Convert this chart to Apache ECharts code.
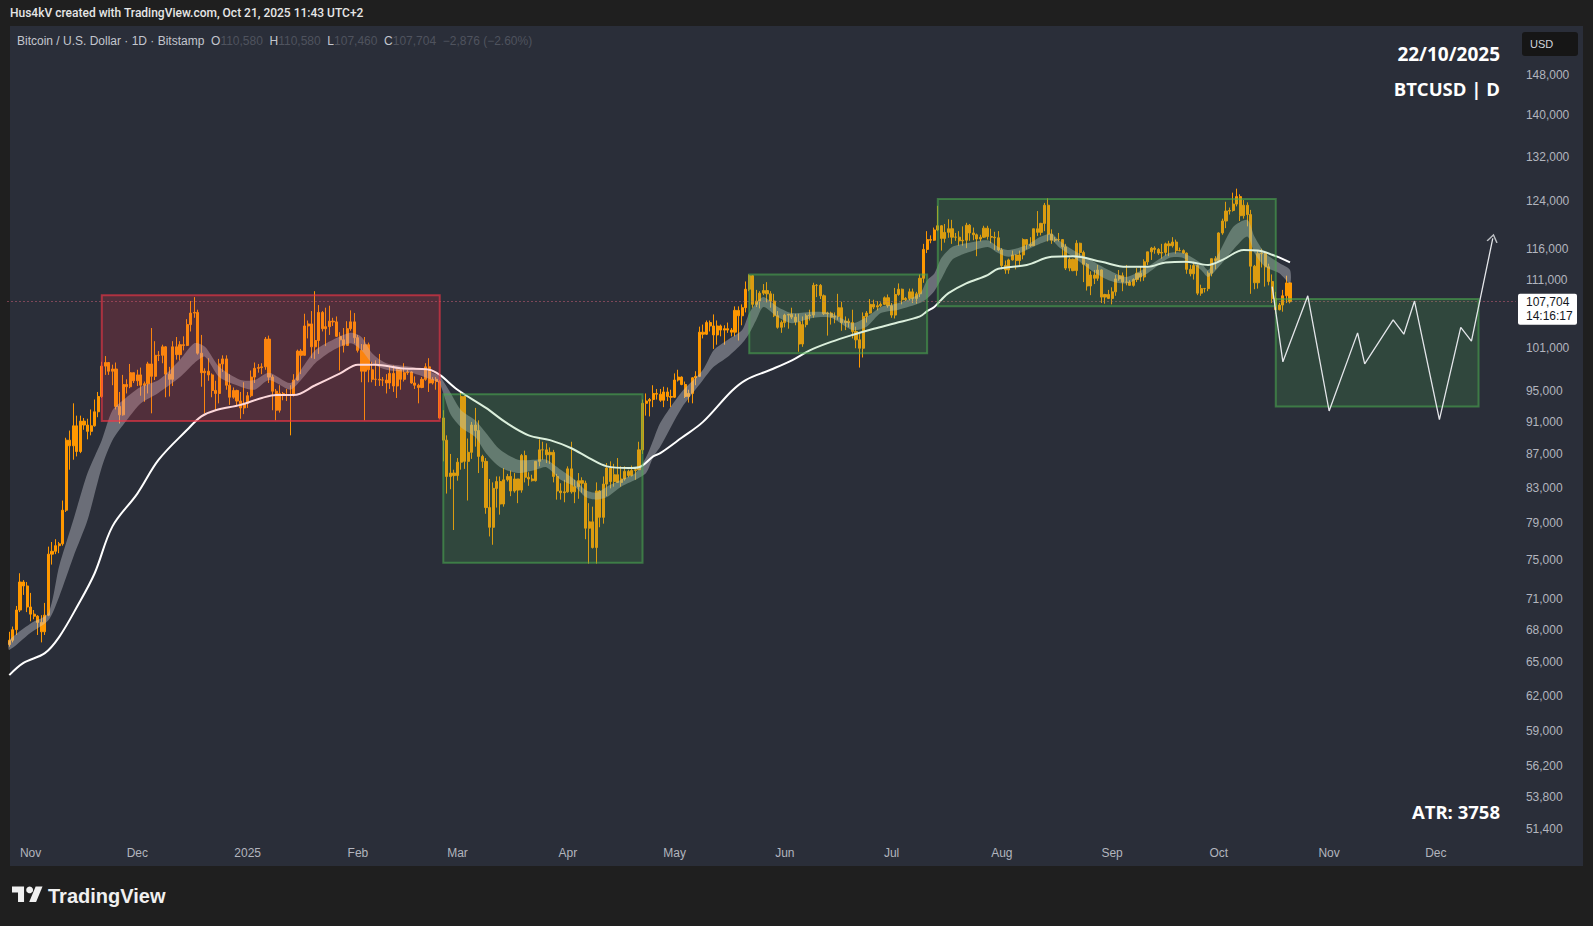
<!DOCTYPE html>
<html>
<head>
<meta charset="utf-8">
<title>BTCUSD 1D</title>
<script src="https://cdn.jsdelivr.net/npm/echarts@6/dist/echarts.min.js"></script>
<style>
  html, body { margin: 0; padding: 0; width: 1593px; height: 926px; overflow: hidden; background: #1f1f1f; }
  #pane { position: absolute; left: 10px; top: 26px; width: 1573px; height: 840px; background: #2a2e39; }
  #chart { position: absolute; left: 0; top: 0; width: 1593px; height: 926px; }
</style>
</head>
<body>
<div id="pane"></div>
<div id="chart"></div>
<script>
// Daily BTCUSD candles, [open, high, low, close] in thousands of USD.
const candlesOct2024 = [
  [66.6,67.8,66.4,67.0],[67.0,68.3,66.8,68.0],[68.0,70.3,67.5,69.9],[69.9,73.6,69.7,72.7],[72.7,72.9,71.4,72.3],[72.3,72.7,69.7,70.2]
];
const candlesNov2024 = [
  [70.2,71.6,68.8,69.5],[69.5,69.9,69.0,69.3],[69.3,69.4,67.5,68.7],[68.7,69.4,66.8,67.8],[67.8,70.6,67.5,69.4],
  [69.4,76.4,69.3,75.6],[75.6,76.9,74.5,75.9],[75.9,77.2,75.6,76.5],[76.5,76.9,75.7,76.7],[76.7,81.5,76.5,80.4],
  [80.4,89.0,80.2,88.7],[88.7,89.9,85.1,88.0],[88.0,93.4,86.3,90.5],[90.5,91.8,86.7,87.3],[87.3,91.8,87.1,91.1],
  [91.1,91.5,90.0,90.6],[90.6,91.4,88.8,89.8],[89.8,92.6,89.3,90.5],[90.5,93.9,90.4,92.3],[92.3,94.9,91.6,94.3],
  [94.3,99.0,94.1,98.4],[98.4,99.8,97.2,98.9],[98.9,98.9,97.2,97.7],[97.7,98.6,95.8,98.0],[98.0,98.9,92.6,93.0],
  [93.0,94.9,90.8,91.9],[91.9,97.2,91.8,95.9],[95.9,96.6,94.7,95.6],[95.6,98.7,95.4,97.5],[97.5,97.5,96.1,96.4]
];
const candlesDec2024 = [
  [96.4,97.9,95.7,97.2],[97.2,98.2,94.4,95.8],[95.8,96.3,93.6,96.0],[96.0,99.0,94.7,98.7],[98.7,103.8,92.1,97.0],
  [97.0,101.9,96.5,99.9],[99.9,100.5,99.1,99.9],[99.9,101.4,98.8,101.1],[101.1,101.2,94.2,97.3],[97.3,98.3,94.3,96.6],
  [96.6,101.9,95.7,101.1],[101.1,102.5,99.3,100.0],[100.0,101.9,99.2,101.4],[101.4,102.6,100.6,101.3],[101.3,105.1,101.2,104.3],
  [104.3,107.8,103.3,106.0],[106.0,108.4,105.3,106.1],[106.1,106.5,100.0,100.2],[100.2,102.8,95.6,97.5],[97.5,98.1,92.1,97.7],
  [97.7,99.5,96.4,97.2],[97.2,97.4,94.2,95.1],[95.1,96.4,92.4,94.7],[94.7,99.4,93.4,98.7],[98.7,99.9,97.6,99.4],
  [99.4,99.9,95.2,95.8],[95.8,97.3,93.2,94.2],[94.2,95.5,94.0,95.1],[95.1,95.2,93.0,93.7],[93.7,94.9,91.4,92.8],
  [92.8,96.2,92.0,93.4]
];
const candlesJan2025 = [
  [93.4,94.9,92.8,94.4],[94.4,97.8,94.2,96.9],[96.9,98.9,96.1,98.1],[98.1,98.7,97.5,98.2],[98.2,98.8,97.3,98.3],
  [98.3,102.5,97.9,102.2],[102.2,102.7,96.1,96.9],[96.9,97.2,92.5,95.0],[95.0,95.3,91.2,92.5],[92.5,95.8,92.2,94.7],
  [94.7,94.9,93.8,94.5],[94.5,95.3,93.7,94.5],[94.5,95.8,89.3,94.5],[94.5,97.3,94.3,96.5],[96.5,100.7,96.4,100.5],
  [100.5,100.8,97.3,99.9],[99.9,105.9,99.9,104.1],[104.1,104.9,102.3,104.4],[104.4,106.3,99.5,101.1],[101.1,109.3,99.4,102.0],
  [102.0,107.2,100.1,106.1],[106.1,106.3,103.3,103.7],[103.7,106.8,101.2,104.0],[104.0,107.1,102.8,104.8],[104.8,105.3,104.1,104.7],
  [104.7,105.5,102.5,102.6],[102.6,103.2,97.8,102.1],[102.1,103.8,100.3,101.3],[101.3,104.8,101.3,103.7],[103.7,106.4,103.4,104.7],
  [104.7,106.0,101.6,102.4]
];
const candlesFeb2025 = [
  [102.4,102.8,100.3,100.6],[100.6,101.5,96.2,97.7],[97.7,102.5,91.2,101.4],[101.4,101.7,96.2,97.9],[97.9,99.0,96.2,96.6],
  [96.6,99.2,95.7,96.6],[96.6,100.1,95.7,96.5],[96.5,96.9,95.7,96.5],[96.5,97.3,94.7,96.1],[96.1,98.3,95.3,97.4],
  [97.4,98.5,94.9,95.7],[95.7,98.1,94.1,97.9],[97.9,98.0,95.2,96.6],[96.6,98.8,96.3,97.5],[97.5,97.9,97.2,97.6],
  [97.6,97.7,96.0,96.1],[96.1,97.0,95.3,95.8],[95.8,96.0,93.4,95.5],[95.5,96.9,95.4,96.6],[96.6,98.8,96.4,98.3],
  [98.3,99.5,94.9,96.1],[96.1,96.9,95.9,96.6],[96.6,96.9,95.2,96.3],[96.3,96.5,91.4,91.5],[91.5,92.5,86.1,88.7],
  [88.7,89.3,82.3,84.3],[84.3,87.0,82.8,84.7],[84.7,85.1,78.2,84.4]
];
const candlesMar2025 = [
  [84.4,86.5,83.8,86.0],[86.0,95.0,85.1,94.3],[94.3,94.4,85.2,86.1],[86.1,88.9,81.5,87.2],[87.2,91.0,86.4,90.6],
  [90.6,92.8,87.9,89.9],[89.9,91.2,84.7,86.7],[86.7,86.9,85.3,86.1],[86.1,86.5,80.0,80.7],[80.7,84.0,77.5,78.5],
  [78.5,83.6,76.6,82.9],[82.9,84.3,80.7,83.7],[83.7,84.3,79.9,81.1],[81.1,85.3,80.8,83.9],[83.9,84.6,83.7,84.3],
  [84.3,85.0,82.0,82.6],[82.6,84.7,82.4,84.0],[84.0,84.0,81.2,82.7],[82.7,87.0,82.4,86.8],[86.8,87.4,83.6,84.2],
  [84.2,84.8,83.2,84.0],[84.0,84.5,83.7,83.8],[83.8,86.1,83.7,86.1],[86.1,88.8,85.5,87.5],[87.5,88.5,86.3,87.5],
  [87.5,88.3,85.9,86.9],[86.9,87.8,85.8,87.2],[87.2,87.5,83.6,84.3],[84.3,84.6,81.6,82.6],[82.6,83.5,81.6,82.4],
  [82.4,83.9,81.3,82.5]
];
const candlesApr2025 = [
  [82.5,85.5,82.4,85.2],[85.2,88.5,82.3,82.5],[82.5,83.9,81.2,83.1],[83.1,84.7,81.7,83.8],[83.8,84.2,82.4,83.5],
  [83.5,83.8,77.2,78.4],[78.4,81.2,74.6,79.1],[79.1,80.8,76.2,76.3],[76.3,83.6,74.6,82.6],[82.6,82.7,78.5,79.6],
  [79.6,84.3,78.9,83.4],[83.4,85.9,82.0,85.3],[85.3,86.1,82.9,83.7],[83.7,85.8,83.1,84.5],[84.5,86.5,83.6,83.6],
  [83.6,85.5,83.1,84.0],[84.0,85.5,83.8,84.9],[84.9,85.1,84.2,84.4],[84.4,85.6,84.3,85.0],[85.0,85.3,83.9,85.1],
  [85.1,88.5,85.1,87.5],[87.5,93.9,87.0,93.4],[93.4,94.7,91.8,93.7],[93.7,94.1,91.7,93.9],[93.9,95.8,92.9,94.7],
  [94.7,95.3,93.9,94.6],[94.6,95.3,93.6,93.8],[93.8,95.6,92.9,94.9],[94.9,95.5,93.7,94.3],[94.3,95.2,92.9,94.2]
];
const candlesMay2025 = [
  [94.2,97.4,94.1,96.5],[96.5,97.9,96.3,96.9],[96.9,97.0,95.8,95.9],[95.9,96.3,94.1,94.3],[94.3,95.2,93.5,94.7],
  [94.7,96.9,93.4,96.8],[96.8,97.7,95.8,97.0],[97.0,104.0,96.9,103.2],[103.2,104.3,102.3,102.9],[102.9,104.9,102.8,104.6],
  [104.6,104.9,103.3,104.1],[104.1,105.8,100.8,102.8],[102.8,104.9,101.4,104.1],[104.1,104.3,102.6,103.5],[103.5,104.2,101.4,103.7],
  [103.7,104.6,103.1,103.5],[103.5,103.8,102.6,103.2],[103.2,107.0,102.6,106.4],[106.4,107.0,102.0,105.6],[105.6,107.3,104.2,106.8],
  [106.8,110.8,106.1,109.6],[109.6,111.9,109.3,111.7],[111.7,111.8,106.8,107.3],[107.3,109.5,106.9,107.8],[107.8,109.3,106.7,109.0],
  [109.0,110.4,108.7,109.4],[109.4,110.7,107.6,108.9],[108.9,109.3,106.8,107.8],[107.8,108.9,105.4,105.6],[105.6,106.3,103.7,103.9],
  [103.9,104.9,103.1,104.6]
];
const candlesJun2025 = [
  [104.6,105.9,103.9,105.7],[105.7,105.9,103.7,105.8],[105.8,106.8,105.1,105.4],[105.4,105.9,104.2,104.7],[104.7,105.9,100.4,101.5],
  [101.5,105.5,101.1,104.3],[104.3,105.9,103.9,105.6],[105.6,106.5,104.9,105.7],[105.7,110.6,105.3,110.2],[110.2,110.4,108.4,110.2],
  [110.2,110.4,108.1,108.6],[108.6,108.8,105.7,105.9],[105.9,106.2,102.7,106.0],[106.0,106.2,104.3,105.4],[105.4,106.1,104.5,105.5],
  [105.5,108.9,105.0,106.8],[106.8,107.7,103.4,104.6],[104.6,105.5,103.5,104.8],[104.8,105.2,103.9,104.6],[104.6,106.5,102.3,103.3],
  [103.3,104.0,100.9,102.1],[102.1,103.0,98.2,100.9],[100.9,106.1,99.6,105.5],[105.5,106.3,104.6,106.0],[106.0,108.1,105.9,107.3],
  [107.3,108.0,106.6,106.9],[106.9,107.8,106.4,107.1],[107.1,107.6,106.9,107.3],[107.3,108.5,107.2,108.3],[108.3,108.8,106.8,107.1]
];
const candlesJul2025 = [
  [107.1,107.5,105.3,105.7],[105.7,109.8,105.2,108.8],[108.8,110.5,108.6,109.6],[109.6,109.7,107.3,108.0],[108.0,108.4,107.8,108.2],
  [108.2,109.7,107.9,109.2],[109.2,109.7,107.5,108.2],[108.2,109.2,107.4,108.9],[108.9,111.9,108.4,111.3],[111.3,116.8,110.6,115.9],
  [115.9,118.9,115.3,117.5],[117.5,118.2,116.9,117.4],[117.4,119.5,117.3,119.1],[119.1,123.2,118.9,119.8],[119.8,119.9,115.7,117.7],
  [117.7,120.1,117.0,118.7],[118.7,120.9,117.8,119.3],[119.3,120.8,116.8,117.9],[117.9,118.6,117.3,117.9],[117.9,118.9,116.5,117.3],
  [117.3,119.7,116.5,117.4],[117.4,120.3,116.1,119.9],[119.9,120.1,117.3,118.6],[118.6,119.5,117.4,118.3],[118.3,118.5,114.8,117.6],
  [117.6,118.3,117.2,117.9],[117.9,119.8,117.8,119.4],[119.4,119.8,117.5,118.0],[118.0,119.3,116.9,117.9],[117.9,118.8,115.8,117.8],
  [117.8,118.9,115.6,115.8]
];
const candlesAug2025 = [
  [115.8,116.1,112.7,113.3],[113.3,114.1,112.0,112.6],[112.6,114.4,112.0,114.2],[114.2,115.7,114.1,115.0],[115.0,115.1,112.7,114.1],
  [114.1,115.7,113.4,115.0],[115.0,117.7,114.3,117.5],[117.5,117.6,115.9,116.7],[116.7,117.9,116.3,116.5],[116.5,119.3,116.5,119.3],
  [119.3,122.3,118.1,118.7],[118.7,120.3,118.2,120.2],[120.2,123.7,118.9,123.3],[123.3,124.5,117.2,118.4],[118.4,119.2,116.8,117.4],
  [117.4,117.9,117.1,117.5],[117.5,118.6,117.2,117.5],[117.5,117.6,114.7,116.3],[116.3,116.8,112.6,112.9],[112.9,114.6,112.4,114.3],
  [114.3,114.4,112.4,112.5],[112.5,117.4,111.7,116.9],[116.9,117.0,114.6,115.4],[115.4,115.7,110.7,113.5],[113.5,113.7,109.4,110.1],
  [110.1,112.4,108.7,111.8],[111.8,112.6,110.4,111.3],[111.3,113.4,110.9,112.6],[112.6,112.7,107.5,108.4],[108.4,108.9,107.4,108.8],
  [108.8,109.5,108.1,108.2]
];
const candlesSep2025 = [
  [108.2,109.9,107.3,109.2],[109.2,111.8,108.6,111.2],[111.2,112.6,110.9,111.7],[111.7,112.2,109.3,110.7],[110.7,113.4,110.2,110.7],
  [110.7,111.0,110.2,110.2],[110.2,111.3,110.0,111.1],[111.1,112.9,110.7,112.1],[112.1,113.2,110.8,111.5],[111.5,114.3,110.9,113.9],
  [113.9,115.5,113.4,115.5],[115.5,116.3,114.2,116.1],[116.1,116.4,115.2,115.9],[115.9,116.1,115.0,115.3],[115.3,116.8,114.4,115.4],
  [115.4,117.0,114.9,116.8],[116.8,117.3,114.8,116.5],[116.5,117.9,116.2,117.1],[117.1,117.5,115.2,115.7],[115.7,116.2,115.6,115.7],
  [115.7,115.9,115.2,115.3],[115.3,115.4,112.0,112.7],[112.7,113.4,111.6,112.0],[112.0,113.9,111.1,113.3],[113.3,113.5,108.7,109.0],
  [109.0,110.3,108.6,109.7],[109.7,109.8,109.1,109.7],[109.7,112.4,109.3,112.1],[112.1,114.4,111.6,114.4],[114.4,114.8,112.7,114.1]
];
const candlesOct2025 = [
  [114.1,118.7,113.9,118.6],[118.6,121.0,118.3,120.6],[120.6,123.9,119.4,122.3],[122.3,122.9,121.7,122.4],[122.4,125.5,122.2,123.5],
  [123.5,126.2,123.1,124.8],[124.8,125.2,120.6,121.5],[121.5,124.2,121.0,123.3],[123.3,123.8,119.7,121.7],[121.7,122.5,108.9,113.2],
  [113.2,113.4,109.6,110.6],[110.6,115.8,109.7,115.2],[115.2,116.0,113.0,115.3],[115.3,115.5,110.0,113.1],[113.1,113.6,110.2,110.8],
  [110.8,111.9,107.5,108.2],[108.2,109.2,105.9,106.5],[106.5,107.5,106.4,107.2],[107.2,109.5,106.2,108.6],[108.6,111.7,107.5,110.58],
  [110.58,110.58,107.46,107.704]
];

// Slow moving average (white line), [date, value in thousands].
const emaSlow = [
  ['2024-10-26',63.8],['2024-10-30',64.9],['2024-11-05',65.8],['2024-11-09',67.3],['2024-11-14',70.2],['2024-11-19',73.6],
  ['2024-11-24',78.6],['2024-12-01',82.3],['2024-12-07',86.3],['2024-12-15',90.0],['2024-12-19',91.7],['2024-12-23',92.5],
  ['2024-12-30',93.2],['2025-01-05',94.1],['2025-01-09',94.5],['2025-01-14',94.5],['2025-01-20',95.8],['2025-01-27',97.4],
  ['2025-02-01',98.6],['2025-02-06',98.6],['2025-02-13',98.1],['2025-02-21',97.9],['2025-02-24',97.2],['2025-03-01',95.2],
  ['2025-03-09',92.8],['2025-03-15',90.8],['2025-03-21',89.3],['2025-03-27',88.7],['2025-04-02',87.7],['2025-04-07',86.5],
  ['2025-04-12',85.5],['2025-04-18',85.3],['2025-04-21',85.4],['2025-04-25',86.7],['2025-04-27',87.1],['2025-05-03',89.0],
  ['2025-05-09',91.0],['2025-05-17',95.0],['2025-05-21',96.5],['2025-05-28',97.9],['2025-06-03',99.2],['2025-06-08',100.6],
  ['2025-06-14',101.8],['2025-06-20',102.8],['2025-06-26',103.7],['2025-07-02',104.5],['2025-07-09',105.5],['2025-07-11',106.3],
  ['2025-07-13',106.9],['2025-07-15',108.0],['2025-07-17',109.0],['2025-07-22',110.5],['2025-07-28',111.8],['2025-07-31',112.8],
  ['2025-08-08',113.4],['2025-08-15',114.7],['2025-08-21',114.8],['2025-08-29',113.9],['2025-09-05',113.1],['2025-09-11',113.1],
  ['2025-09-16',113.8],['2025-09-22',113.9],['2025-09-28',113.4],['2025-10-02',114.2],['2025-10-08',115.8],['2025-10-12',115.7],
  ['2025-10-17',114.8],['2025-10-21',113.8]
];

// Fast moving-average ribbon, [date, upper edge, lower edge] in thousands.
const emaRibbon = [
  ['2024-10-26',67.0,66.1],['2024-11-01',68.6,67.7],['2024-11-06',69.6,68.9],['2024-11-09',74.3,71.2],['2024-11-13',79.3,75.3],
  ['2024-11-17',84.7,79.3],['2024-11-21',88.7,85.4],['2024-11-24',92.5,88.7],['2024-11-28',94.2,91.2],['2024-12-02',95.6,93.4],
  ['2024-12-07',96.5,94.8],['2024-12-13',99.3,96.9],['2024-12-17',101.6,98.8],['2024-12-20',101.1,99.7],['2024-12-24',98.3,96.9],
  ['2024-12-30',96.5,95.6],['2025-01-03',96.5,95.2],['2025-01-07',97.5,96.5],['2025-01-13',96.1,95.2],['2025-01-16',97.9,96.5],
  ['2025-01-20',100.6,98.8],['2025-01-25',102.1,100.6],['2025-01-30',103.1,101.6],['2025-02-02',102.5,100.6],['2025-02-05',100.2,98.8],
  ['2025-02-09',98.8,97.9],['2025-02-16',98.3,97.5],['2025-02-22',97.5,96.5],['2025-02-24',97.0,96.0],['2025-02-27',94.8,92.0],
  ['2025-03-02',92.5,90.3],['2025-03-06',91.2,89.1],['2025-03-09',89.6,87.1],['2025-03-13',87.5,85.4],['2025-03-18',86.3,84.7],
  ['2025-03-23',86.3,85.1],['2025-03-26',86.3,85.4],['2025-03-30',85.1,83.9],['2025-04-03',83.9,83.1],['2025-04-06',82.7,81.9],
  ['2025-04-09',82.4,81.6],['2025-04-12',83.1,81.9],['2025-04-16',83.9,83.1],['2025-04-20',84.7,83.9],['2025-04-23',86.6,84.7],
  ['2025-04-25',88.7,86.6],['2025-04-27',90.9,87.9],['2025-05-03',94.9,92.8],['2025-05-09',97.9,96.5],['2025-05-12',100.6,98.3],
  ['2025-05-16',102.1,99.7],['2025-05-20',103.5,101.6],['2025-05-22',106.0,103.0],['2025-05-24',107.5,105.0],['2025-05-26',108.4,106.9],
  ['2025-05-30',106.9,105.4],['2025-06-03',106.0,104.5],['2025-06-09',106.2,105.3],['2025-06-14',106.0,105.3],['2025-06-20',104.5,103.5],
  ['2025-06-24',105.4,104.0],['2025-06-28',106.9,106.0],['2025-07-03',107.5,106.5],['2025-07-09',109.0,107.5],['2025-07-11',111.0,108.2],
  ['2025-07-13',112.0,109.3],['2025-07-15',114.5,111.2],['2025-07-18',116.3,114.2],['2025-07-22',116.9,115.3],['2025-07-28',117.4,116.3],
  ['2025-07-31',116.3,115.3],['2025-08-03',115.8,114.7],['2025-08-08',116.6,115.8],['2025-08-12',118.0,116.9],['2025-08-15',118.5,117.4],
  ['2025-08-17',117.4,116.3],['2025-08-21',115.8,114.7],['2025-08-26',114.2,112.6],['2025-08-31',112.6,111.0],['2025-09-05',111.5,110.5],
  ['2025-09-11',113.1,112.1],['2025-09-17',115.3,114.5],['2025-09-21',115.3,114.5],['2025-09-26',113.7,112.6],['2025-09-28',112.6,111.5],
  ['2025-10-01',115.3,113.1],['2025-10-05',119.6,115.8],['2025-10-09',120.8,118.0],['2025-10-11',118.0,115.3],['2025-10-14',115.3,113.1],
  ['2025-10-18',113.7,112.1],['2025-10-21',112.6,110.5]
];

// Range boxes: [from, to, top, bottom (thousands), kind].
const rangeBoxes = [
  ['2024-11-21','2025-02-24',108.7,91.1,'distribution'],
  ['2025-02-25','2025-04-22',94.6,74.7,'range'],
  ['2025-05-22','2025-07-11',111.9,100.2,'range'],
  ['2025-07-14','2025-10-17',124.4,107.0,'range'],
  ['2025-10-17','2025-12-13',108.1,93.0,'range']
];

// Projected path drawn ahead of the last candle, [date, price in thousands].
const projectionPath = [
  ['2025-10-16',110.0],['2025-10-19',99.0],['2025-10-26',108.6],['2025-11-01',92.4],['2025-11-09',103.1],
  ['2025-11-11',98.7],['2025-11-19',105.0],['2025-11-22',102.9],['2025-11-25',107.8],['2025-12-02',91.3],
  ['2025-12-08',103.9],['2025-12-11',101.9],['2025-12-17',117.7]
];

// Price-scale tick labels (log scale).
const priceTicks = [148000,140000,132000,124000,116000,111000,101000,95000,91000,87000,83000,79000,75000,71000,68000,65000,62000,59000,56200,53800,51400];
const monthNames = ['Jan','Feb','Mar','Apr','May','Jun','Jul','Aug','Sep','Oct','Nov','Dec'];

// Axis extent: first session through the right margin of the time scale.
const firstDay = Date.UTC(2024, 9, 26);
const sessionCount = 424;
const priceMin = 50635, priceMax = 158305;

const categories = [];
for (let i = 0; i < sessionCount; i++) {
  categories.push(new Date(firstDay + i * 86400000).toISOString().slice(0, 10));
}
const dayIndex = {};
categories.forEach((d, i) => { dayIndex[d] = i; });

const candleRows = [].concat(candlesOct2024, candlesNov2024, candlesDec2024, candlesJan2025, candlesFeb2025,
  candlesMar2025, candlesApr2025, candlesMay2025, candlesJun2025, candlesJul2025, candlesAug2025,
  candlesSep2025, candlesOct2025);
// ECharts candlestick order: [open, close, low, high]
const candleData = candleRows.map(r => [r[0] * 1000, r[3] * 1000, r[2] * 1000, r[1] * 1000]);

const lastRow = candleRows[candleRows.length - 1];
const prevClose = candleRows[candleRows.length - 2][3];
const lastClose = lastRow[3] * 1000;

const fmtPrice = v => Math.round(v).toLocaleString('en-US');
const minus = v => (v < 0 ? '\u2212' : '');
const change = Math.round((lastRow[3] - prevClose) * 1000);
const changePct = ((lastRow[3] - prevClose) / prevClose * 100).toFixed(2);

const slowData = emaSlow.map(p => [dayIndex[p[0]], p[1] * 1000]);
const ribbonData = emaRibbon.map(p => [dayIndex[p[0]], p[1] * 1000, p[2] * 1000]);
const boxData = rangeBoxes.map(b => [dayIndex[b[0]], b[2] * 1000, dayIndex[b[1]], b[3] * 1000]);
const projData = projectionPath.map(p => [dayIndex[p[0]], p[1] * 1000]);

const boxStyles = {
  distribution: { fill: 'rgba(242,54,69,0.20)', stroke: 'rgba(242,54,69,0.62)' },
  range: { fill: 'rgba(76,175,80,0.20)', stroke: 'rgba(76,175,80,0.55)' }
};

const FONT = '"Liberation Sans", Arial, sans-serif';
const BIG = '"Open Sans", "Liberation Sans", sans-serif';

const chart = echarts.init(document.getElementById('chart'), null, { renderer: 'svg' });

const infoText =
  '{t|Bitcoin / U.S. Dollar \u00b7 1D \u00b7 Bitstamp}  ' +
  '{k|O}{v|' + fmtPrice(lastRow[0] * 1000) + '}  ' +
  '{k|H}{v|' + fmtPrice(lastRow[1] * 1000) + '}  ' +
  '{k|L}{v|' + fmtPrice(lastRow[2] * 1000) + '}  ' +
  '{k|C}{v|' + fmtPrice(lastRow[3] * 1000) + '}  ' +
  '{v|' + minus(change) + fmtPrice(Math.abs(change)) + ' (' + minus(change) + Math.abs(changePct).toFixed(2) + '%)}';

const option = {
  animation: false,
  backgroundColor: 'transparent',
  grid: { left: 7.5, right: 77.1, top: 27, bottom: 86, containLabel: false },
  xAxis: {
    type: 'category',
    data: categories,
    boundaryGap: true,
    axisLine: { show: false },
    axisTick: { show: false },
    splitLine: { show: false },
    axisLabel: {
      interval: (i, v) => v.slice(8) === '01',
      formatter: v => (v.slice(5, 7) === '01' ? v.slice(0, 4) : monthNames[+v.slice(5, 7) - 1]),
      color: '#b2b5be',
      fontSize: 12,
      fontFamily: FONT,
      margin: 7
    }
  },
  yAxis: {
    type: 'log',
    position: 'right',
    min: priceMin,
    max: priceMax,
    axisLine: { show: false },
    axisTick: { show: false },
    splitLine: { show: false },
    minorTick: { show: false },
    axisLabel: {
      customValues: priceTicks,
      formatter: v => fmtPrice(v),
      color: '#b2b5be',
      fontSize: 12,
      fontFamily: FONT,
      margin: 10
    }
  },
  series: [
    {
      name: 'BTCUSD',
      type: 'candlestick',
      data: candleData,
      barWidth: 2.6,
      z: 2,
      itemStyle: {
        color: '#ff9800', color0: '#ff9800',
        borderColor: '#ff9800', borderColor0: '#ff9800',
        borderWidth: 1
      }
    },
    {
      name: 'ribbon',
      type: 'custom',
      data: ribbonData,
      encode: { x: 0, y: [1, 2] },
      z: 3,
      silent: true,
      renderItem: (params, api) => {
        if (params.dataIndex !== 0) return null;
        const up = ribbonData.map(p => api.coord([p[0], p[1]]));
        const lo = ribbonData.map(p => api.coord([p[0], p[2]])).reverse();
        return {
          type: 'polygon',
          shape: { points: up.concat(lo), smooth: 0.25 },
          style: { fill: 'rgba(205,208,216,0.40)' }
        };
      }
    },
    {
      name: 'slow',
      type: 'line',
      data: slowData,
      smooth: 0.35,
      symbol: 'none',
      z: 4,
      silent: true,
      lineStyle: { color: '#ffffff', width: 2 }
    },
    {
      name: 'boxes',
      type: 'custom',
      data: boxData,
      encode: { x: [0, 2], y: [1, 3] },
      z: 5,
      silent: true,
      renderItem: (params, api) => {
        const a = api.coord([api.value(0), api.value(1)]);
        const b = api.coord([api.value(2), api.value(3)]);
        const s = boxStyles[rangeBoxes[params.dataIndex][4]];
        return {
          type: 'rect',
          shape: { x: a[0], y: a[1], width: b[0] - a[0], height: b[1] - a[1] },
          style: { fill: s.fill, stroke: s.stroke, lineWidth: 2 }
        };
      }
    },
    {
      name: 'projection',
      type: 'line',
      data: projData,
      symbol: 'none',
      z: 6,
      silent: true,
      lineStyle: { color: '#e4e6ea', width: 1.3 },
      markLine: {
        silent: true,
        symbol: ['none', 'none'],
        label: { show: false },
        lineStyle: { color: '#d0607a', type: [1, 3], width: 1 },
        data: [{ yAxis: lastClose }]
      }
    },
    {
      name: 'arrow',
      type: 'scatter',
      data: [projData[projData.length - 1]],
      symbol: 'path://M0,9L6,0L12,9',
      symbolSize: [10, 7],
      symbolKeepAspect: false,
      z: 7,
      silent: true,
      itemStyle: { color: 'transparent', borderColor: '#e4e6ea', borderWidth: 1.3 }
    }
  ],
  graphic: [
    { type: 'text', left: 10, top: 7, silent: true,
      style: { text: 'Hus4kV created with TradingView.com, Oct 21, 2025 11:43 UTC+2', fill: '#e6e6e6', font: '500 12px Roboto, sans-serif' } },
    { type: 'text', left: 17, top: 35, silent: true,
      style: {
        text: infoText,
        rich: {
          t: { fill: '#c3c6ce', fontSize: 12, fontFamily: FONT },
          k: { fill: '#c3c6ce', fontSize: 12, fontFamily: FONT },
          v: { fill: '#4f535e', fontSize: 12, fontFamily: FONT }
        }
      } },
    { type: 'text', silent: true,
      style: { text: '22/10/2025', x: 1500, y: 54, align: 'right', verticalAlign: 'middle', fill: '#ffffff', font: 'bold 19px ' + BIG } },
    { type: 'text', silent: true,
      style: { text: 'BTCUSD | D', x: 1500, y: 88, align: 'right', verticalAlign: 'middle', fill: '#ffffff', font: 'bold 18.5px ' + BIG } },
    { type: 'text', silent: true,
      style: { text: 'ATR: 3758', x: 1500, y: 811, align: 'right', verticalAlign: 'middle', fill: '#ffffff', font: 'bold 18.5px ' + BIG } },
    { type: 'rect', silent: true, shape: { x: 1522, y: 32, width: 56, height: 24, r: 3 }, style: { fill: '#161616' } },
    { type: 'text', silent: true,
      style: { text: 'USD', x: 1530, y: 44, verticalAlign: 'middle', fill: '#d1d4dc', font: '11px ' + FONT } },
    { type: 'group', x: 12, y: 883, scaleX: 0.86, scaleY: 0.86, silent: true,
      children: [
        { type: 'polygon', shape: { points: [[0,4],[14,4],[14,22],[7,22],[7,11],[0,11]] }, style: { fill: '#f0f0f0' } },
        { type: 'circle', shape: { cx: 20.5, cy: 8, r: 4 }, style: { fill: '#f0f0f0' } },
        { type: 'polygon', shape: { points: [[20,22],[27.5,4],[35.5,4],[28,22]] }, style: { fill: '#f0f0f0' } }
      ] },
    { type: 'text', silent: true,
      style: { text: 'TradingView', x: 48, y: 896, verticalAlign: 'middle', fill: '#f0f0f0', font: 'bold 20px ' + FONT } }
  ]
};

chart.setOption(option);

// Orient the arrow head along the last projected leg, and place the last-price tag.
const legA = chart.convertToPixel({ gridIndex: 0 }, projData[projData.length - 2]);
const legB = chart.convertToPixel({ gridIndex: 0 }, projData[projData.length - 1]);
const heading = Math.atan2(legB[0] - legA[0], legA[1] - legB[1]) * 180 / Math.PI;
const tagY = chart.convertToPixel({ yAxisIndex: 0 }, lastClose);

chart.setOption({
  series: [{}, {}, {}, {}, {}, { symbolRotate: -heading }],
  graphic: option.graphic.concat([
    { type: 'rect', silent: true, shape: { x: 1518, y: tagY - 8, width: 59, height: 31, r: 2 }, style: { fill: '#ffffff' } },
    { type: 'text', silent: true,
      style: { text: fmtPrice(lastClose), x: 1526, y: tagY, verticalAlign: 'middle', fill: '#131722', font: '12px ' + FONT } },
    { type: 'text', silent: true,
      style: { text: '14:16:17', x: 1526, y: tagY + 14, verticalAlign: 'middle', fill: '#131722', font: '12px ' + FONT } }
  ])
});
</script>
</body>
</html>
